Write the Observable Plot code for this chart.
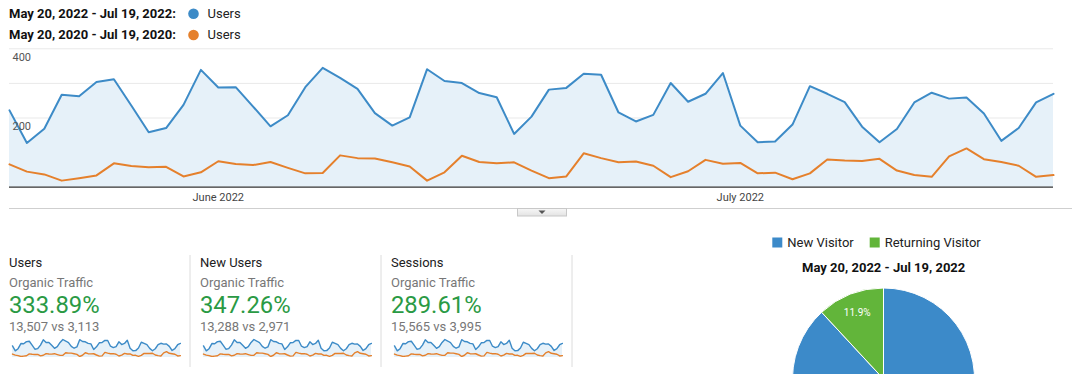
<!DOCTYPE html>
<html>
<head>
<meta charset="utf-8">
<script src="https://cdn.jsdelivr.net/npm/d3@7"></script>
<script src="https://cdn.jsdelivr.net/npm/@observablehq/plot@0.6"></script>
<style>
  html, body { margin: 0; padding: 0; background: #fff; }
  body { width: 1085px; height: 374px; overflow: hidden; position: relative; font-family: Roboto, "Liberation Sans", sans-serif; }
  .abs { position: absolute; }
  svg.plot-abs { position: absolute; }
</style>
</head>
<body>
<div id="root" class="abs" style="left:0;top:0;width:1085px;height:374px;"></div>
<script>
// ---------------- data ----------------
const startDay = "2022-05-20";
const dayCount = 61;
const users2022 = [222,128,169,267,263,304,312,236,159,171,238,339,288,289,233,176,208,289,345,316,284,214,178,202,341,307,301,272,260,154,204,282,287,328,325,216,190,209,301,247,270,330,178,130,132,181,292,270,246,175,130,168,245,273,256,259,213,134,171,245,270];
const users2020 = [66,45,37,19,26,34,69,61,58,59,31,43,75,67,64,73,56,40,41,92,84,83,72,60,19,43,91,73,69,72,48,26,31,98,84,72,74,62,29,46,79,68,70,40,42,23,40,80,77,76,82,48,35,30,89,112,81,73,62,30,35];
const rangeLabels = ["May 20, 2022 - Jul 19, 2022:", "May 20, 2020 - Jul 19, 2020:"];
const seriesName = "Users";
const yTicks = [200, 400];
const yGrid = [100, 200, 300, 400];
const monthTicks = ["2022-06-01", "2022-07-01"];
const cardTitles = ["Users", "New Users", "Sessions"];
const cardSegment = "Organic Traffic";
const cardChange = ["333.89%", "347.26%", "289.61%"];
const cardCompare = ["13,507 vs 3,113", "13,288 vs 2,971", "15,565 vs 3,995"];
const pieLabels = ["New Visitor", "Returning Visitor"];
const pieValues = [88.1, 11.9];
const pieTitle = "May 20, 2022 - Jul 19, 2022";

const BLUE = "#3d8bc7", ORANGE = "#e5802c", FILL = "#e6f1f9";
const PIE_BLUE = "#3c8ac9", PIE_GREEN = "#62b53a";

const start = new Date(startDay + "T00:00:00Z");
const dates = d3.utcDay.range(start, d3.utcDay.offset(start, dayCount));
const rows = dates.map((d, i) => ({date: d, cur: users2022[i], prev: users2020[i]}));
const root = document.getElementById("root");

// ---------------- main chart ----------------
const main = Plot.plot({
  width: 1085, height: 210,
  marginLeft: 9, marginRight: 32, marginTop: 48.3, marginBottom: 23.3,
  style: {fontFamily: "Roboto", fontSize: "11px", background: "transparent", color: "#444"},
  x: {type: "utc", domain: [dates[0], dates[dates.length - 1]]},
  y: {domain: [0, 400]},
  marks: [
    Plot.gridY(yGrid, {stroke: "#e9e9e9", strokeOpacity: 1}),
    Plot.areaY(rows, {x: "date", y: "cur", fill: FILL}),
    Plot.ruleY([0], {stroke: "#333", strokeWidth: 1.3}),
    Plot.line(rows, {x: "date", y: "prev", stroke: ORANGE, strokeWidth: 2}),
    Plot.line(rows, {x: "date", y: "cur", stroke: BLUE, strokeWidth: 2}),
    Plot.axisX(monthTicks.map(s => new Date(s + "T00:00:00Z")), {tickSize: 0, tickPadding: 6, tickFormat: d3.utcFormat("%B %Y"), fill: "#444", fontSize: 11}),
    Plot.axisY(yTicks, {tickSize: 0, tickPadding: 0, textAnchor: "start", dx: 3, dy: 8.5, fill: "#555", fontSize: 11})
  ]
});
main.classList.add("plot-abs");
main.style.left = "0px"; main.style.top = "0px";
root.appendChild(main);

// ---------------- sparklines ----------------
const cardX = [9, 200, 391];
cardX.forEach((cx) => {
  const sp = Plot.plot({
    width: 170, height: 20,
    marginLeft: 1, marginRight: 1, marginTop: 2, marginBottom: 0,
    style: {background: "transparent"},
    x: {type: "utc", domain: [dates[0], dates[dates.length - 1]], axis: null},
    y: {domain: [0, 345], axis: null},
    marks: [
      Plot.areaY(rows, {x: "date", y: "cur", fill: FILL}),
      Plot.line(rows, {x: "date", y: "prev", stroke: ORANGE, strokeWidth: 1.4}),
      Plot.line(rows, {x: "date", y: "cur", stroke: BLUE, strokeWidth: 1.4})
    ]
  });
  sp.classList.add("plot-abs");
  sp.style.left = (cx + 1.5) + "px"; sp.style.top = "337px";
  root.appendChild(sp);
});

// ---------------- overlay text / decorations ----------------
const ov = d3.select(root).append("svg")
  .attr("class", "plot-abs")
  .attr("width", 1085).attr("height", 374)
  .style("left", "0px").style("top", "0px")
  .style("font-family", "Roboto, sans-serif");

// header legend
const legendColors = [BLUE, ORANGE];
const headerBase = [17.7, 39];
rangeLabels.forEach((t, i) => {
  ov.append("text").attr("x", 9).attr("y", headerBase[i]).attr("font-size", 13).attr("font-weight", "bold").attr("fill", "#111").text(t);
  ov.append("circle").attr("cx", 193.5).attr("cy", headerBase[i] - 4).attr("r", 5.3).attr("fill", legendColors[i]);
  ov.append("text").attr("x", 207.5).attr("y", headerBase[i]).attr("font-size", 13).attr("fill", "#222").text(seriesName);
});

// divider + toggle button
ov.append("line").attr("x1", 9).attr("x2", 1072).attr("y1", 208.5).attr("y2", 208.5).attr("stroke", "#cfcfcf");
const grad = ov.append("defs").append("linearGradient").attr("id", "btn").attr("x1", 0).attr("x2", 0).attr("y1", 0).attr("y2", 1);
grad.append("stop").attr("offset", "0%").attr("stop-color", "#f7f7f7");
grad.append("stop").attr("offset", "100%").attr("stop-color", "#e3e3e3");
ov.append("rect").attr("x", 517.5).attr("y", 208.5).attr("width", 49).attr("height", 7.5).attr("fill", "url(#btn)").attr("stroke", "#c8c8c8");
ov.append("path").attr("d", "M538.5,210.5 L545.5,210.5 L542,214 Z").attr("fill", "#555");

// scorecards
cardX.forEach((cx, i) => {
  ov.append("text").attr("x", cx).attr("y", 267).attr("font-size", 13).attr("fill", "#212121").text(cardTitles[i]);
  ov.append("text").attr("x", cx).attr("y", 287).attr("font-size", 13).attr("fill", "#777").text(cardSegment);
  ov.append("text").attr("x", cx).attr("y", 313.4).attr("font-size", 23.8).attr("fill", "#2a9a44").text(cardChange[i]);
  ov.append("text").attr("x", cx).attr("y", 330.5).attr("font-size", 13).attr("fill", "#777").text(cardCompare[i]);
  ov.append("line").attr("x1", cx + 181).attr("x2", cx + 181).attr("y1", 255).attr("y2", 367).attr("stroke", "#dcdcdc");
});

// pie legend
const pieColors = [PIE_BLUE, PIE_GREEN];
const pieLegX = [772.3, 869.7];
pieLabels.forEach((t, i) => {
  ov.append("rect").attr("x", pieLegX[i]).attr("y", 237.5).attr("width", 10).attr("height", 10).attr("fill", pieColors[i]);
  ov.append("text").attr("x", pieLegX[i] + 15).attr("y", 247).attr("font-size", 13).attr("fill", "#222").text(t);
});
ov.append("text").attr("x", 883.7).attr("y", 271.7).attr("text-anchor", "middle").attr("font-size", 13).attr("font-weight", "bold").attr("fill", "#111").text(pieTitle);

// pie (the lower part falls below the visible area, as in the reference)
const pcx = 883.5, pcy = 379, pr = 91;
const arcs = d3.pie().sort(null).startAngle(0).endAngle(2 * Math.PI)(pieValues);
const arcGen = d3.arc().innerRadius(0).outerRadius(pr);
const labelArc = d3.arc().innerRadius(pr * 0.79).outerRadius(pr * 0.79);
const pg = ov.append("g").attr("transform", `translate(${pcx},${pcy})`);
pg.selectAll("path.slice").data(arcs).join("path")
  .attr("class", "slice")
  .attr("d", arcGen)
  .attr("fill", (d, i) => pieColors[i])
  .attr("stroke", "#fff").attr("stroke-width", 1);
// only slice labels that sit inside the visible page are drawn
const visibleLabels = arcs.filter(d => pcy + labelArc.centroid(d)[1] + 5 < 374);
pg.selectAll("text.lbl").data(visibleLabels).join("text")
  .attr("class", "lbl")
  .attr("transform", d => `translate(${labelArc.centroid(d)})`)
  .attr("dy", "0.35em")
  .attr("text-anchor", "middle")
  .attr("font-size", 10)
  .attr("fill", "#fff")
  .text(d => d.value.toFixed(1) + "%");
</script>
</body>
</html>
